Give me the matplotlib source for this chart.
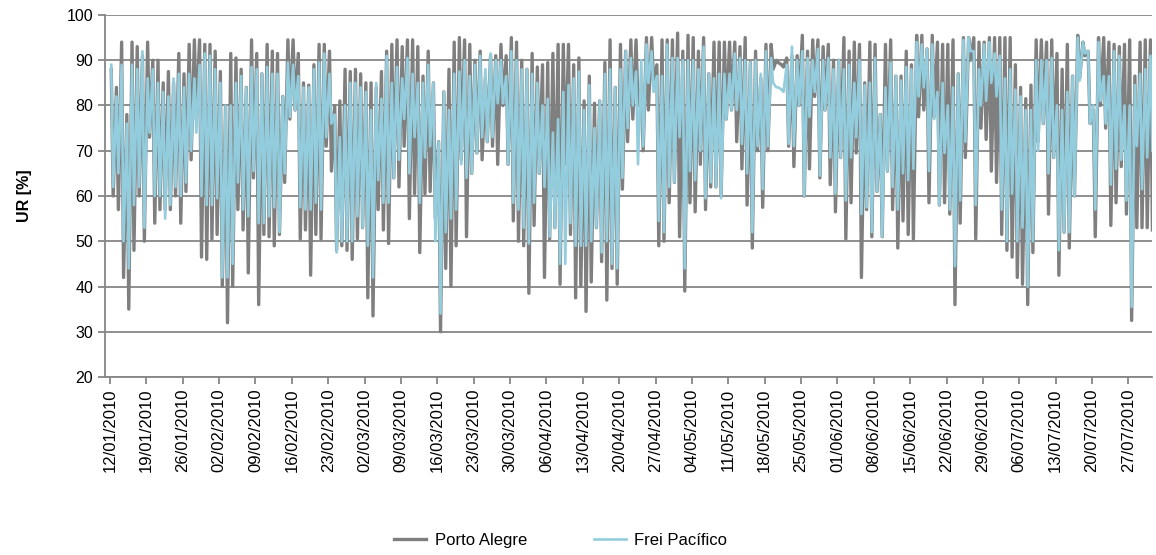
import matplotlib
matplotlib.use("Agg")
import matplotlib.pyplot as plt
import numpy as np
import pandas as pd

plt.rcParams['font.family'] = ['Liberation Sans', 'DejaVu Sans']

# daily extremes of relative humidity, 12/01/2010 .. 31/07/2010 (one value per day)
start_date = "2010-01-12"

pa_max = [88, 84, 94, 78, 94, 93, 91, 94, 90, 90, 85, 87.5, 85, 91.5, 87, 93.5,
          94.5, 94.5, 93.5, 93.5, 92, 87.5, 80, 91.5, 90.5, 88, 84, 94.5, 91.5, 87, 93.5, 92,
          91.5, 82, 94.5, 94.5, 91.5, 85, 84.5, 89, 93.5, 93.5, 92, 80, 81, 88, 87.5, 88,
          87, 85, 85, 84, 87.5, 92, 93.5, 94.5, 93, 94.5, 94.5, 93, 86.5, 92, 85, 72, 83,
          88, 94, 95, 94.5, 93.5, 90, 92, 86, 91, 91, 93.5, 91, 95, 94, 90, 88,
          91.5, 88.5, 89, 89.5, 91.5, 93.5, 93.5, 93.5, 89, 90.5, 81, 86.5, 80.5, 81, 89.5, 94.5,
          84, 93.5, 92, 94.5, 94.5, 82, 95, 95, 89, 94.5, 94.5, 94.5, 96, 92, 95.5, 95,
          92, 95, 87, 94, 94, 94, 94, 94, 93, 95, 89.5, 92, 86, 93.5, 93.5,
          90, 89, 90.5, 91, 91, 95.5, 92, 94.5, 94.5, 93, 93.5, 90, 90, 95, 92, 94, 93.5, 85,
          94, 93.5, 78, 93.5, 94.5, 86.5, 86.5, 92, 89, 95.5, 95.5, 92.5, 95.5, 94, 93.5, 93.5, 94.5,
          87, 95, 95, 95, 94, 94, 95, 95, 95, 95, 95, 89, 84, 81.5, 84.5, 94.5,
          94.5, 94, 94.5, 91.5, 88, 93.5, 86.5, 95.5, 94, 92, 79, 95, 95, 94, 93.5, 93, 93.5,
          94.5, 86.5, 94, 94.5, 94.5]

pa_min = [60, 57, 42, 35, 48, 60, 50, 73, 54, 57, 57, 57, 60, 54, 61, 68,
          77, 46.5, 46, 50.5, 51.5, 40, 32, 40, 57, 52.5, 43, 64, 36, 51.5, 51, 49,
          51.5, 63, 77, 79, 50.5, 52.5, 42.5, 51.5, 50.5, 71, 65.5, 48, 49, 48, 46, 50.5,
          53, 37.5, 33.5, 57, 52.5, 49.5, 64, 62, 71, 55, 60.5, 47.5, 60.5, 61, 55, 30, 44,
          40, 49, 68, 51, 65, 69.5, 68, 72, 71, 67, 80, 67, 54.5, 50, 49, 38.5,
          53.5, 65, 42, 50.5, 53, 40.5, 67, 51.5, 37.5, 40, 34.5, 41, 53, 45.5, 37, 44,
          40.5, 61.5, 72, 77, 80, 70, 79, 85, 49, 50, 58.5, 63, 51, 39, 58.5, 56.5,
          67, 57, 62, 62, 60, 77, 79, 72, 66, 58, 48.5, 70, 57.5, 70, 88,
          89.5, 88.5, 71, 66.5, 80, 60, 66, 82, 64, 79, 62.5, 56.5, 68.5, 50.5, 58.5, 69.5, 42, 57,
          51, 61, 51, 65.5, 57, 48.5, 54.5, 51.5, 50.5, 77.5, 79, 58.5, 77.5, 58, 58.5, 56, 36,
          54, 68.5, 90, 50.5, 75, 72.5, 65.5, 63, 51.5, 48, 46.5, 42, 40.5, 36, 47.5, 72,
          76, 56, 68.5, 42.5, 52, 48.5, 60, 86, 91, 76, 51, 80, 75, 53.5, 58.5, 66.5, 56,
          32.5, 53, 53, 53, 52.5]

fp_max = [89, 82, 89, 76, 89, 88, 92, 86, 88, 85, 83, 82, 86, 87, 84, 87,
          86, 89, 91.5, 91, 88, 85, 80, 80, 85, 86.5, 84, 88.5, 88, 87, 88.5, 87,
          87, 82, 89.5, 89, 86.5, 84, 84, 88, 89.5, 91.5, 87, 78, 73, 80, 85, 85,
          84, 83, 79, 85, 81.5, 91, 85, 88.5, 86, 90.5, 87, 85, 85, 89, 85, 72, 83,
          79, 87, 87.5, 90, 86.5, 89, 91, 88, 91.5, 90, 90, 86.5, 92, 90, 88, 88,
          87, 85, 80, 81.5, 74, 77, 83, 84.5, 86, 87.5, 79, 84.5, 75, 81, 87, 88,
          84, 88, 92, 90.5, 87.5, 90, 93.5, 92, 86.5, 86.5, 93.5, 90.5, 90.5, 90, 90, 90,
          88, 93, 87, 86, 87, 87, 87, 91.5, 90.5, 90, 89.5, 90, 87, 92, 90.5,
          84, 83.5, 89, 93, 90, 92, 90.5, 90, 92.5, 90, 90.5, 88, 90, 88, 89, 85, 90, 84.5,
          85, 90.5, 78, 84, 89.5, 86.5, 85.5, 88.5, 88, 94, 93.5, 92.5, 93.5, 83, 85, 80, 84,
          87, 94.5, 95, 92, 88, 93.5, 94, 91.5, 91, 86, 88, 83.5, 82, 79, 79, 90,
          90, 90, 90.5, 80, 79, 83, 86.5, 95, 94, 92, 80, 94, 86.5, 86.5, 92, 91, 80,
          80, 84.5, 87, 88, 91]

fp_min = [62, 65, 50, 44, 58, 62, 53, 74, 60, 60, 55, 58, 62, 60, 63, 70,
          74, 60, 58, 58, 59.5, 42, 42, 45, 63, 57, 55.5, 65.5, 54, 54, 55.5, 57.5,
          52, 65, 77.5, 79, 57.5, 57, 57, 58.5, 57, 73, 76, 47.5, 50, 50, 50, 55.5,
          53, 49, 42, 63.5, 58.5, 58.5, 64, 68, 77, 65, 73, 58.5, 68.5, 71, 50, 34, 52,
          55, 57, 67, 64, 65, 69.5, 73, 72, 73, 80.5, 80.5, 67, 58.5, 57, 53, 49.5,
          58.5, 65, 62, 51, 53, 45, 45, 54, 49, 49, 49, 50, 53, 47.5, 50, 45,
          44, 64, 75, 80, 67, 71, 85, 83, 54.5, 52, 62, 63, 73, 44, 65.5, 63.5,
          70, 59.5, 63, 62, 59.5, 77, 79, 79, 71.5, 65, 52, 71, 61.5, 71, 85,
          84, 83, 71.5, 71, 80, 60, 77.5, 83, 64.5, 79, 68.5, 60.5, 68.5, 59, 68.5, 73, 56, 57.5,
          52, 61, 51, 65.5, 62, 57, 65, 63.5, 66, 82, 84, 65.5, 77, 58, 69.5, 57, 44.5,
          59, 72, 92, 58, 80, 81, 85, 82, 57, 50, 60.5, 50, 53, 40, 50, 70,
          76, 65, 68.5, 48, 52, 52, 60, 85.5, 91.5, 76, 57, 81, 76, 62.5, 66, 68, 59,
          35.5, 71, 61.5, 68.5, 70]

series_names = ["Porto Alegre", "Frei Pacífico"]

days = np.arange(len(pa_max))
# morning maximum and afternoon minimum of each day
x = np.column_stack([days + 0.25, days + 0.62]).ravel()
pa = np.column_stack([pa_max, pa_min]).ravel()
fp = np.column_stack([fp_max, fp_min]).ravel()

tick_days = np.arange(0, len(days), 7)
tick_labels = [d.strftime("%d/%m/%Y") for d in pd.Timestamp(start_date) + pd.to_timedelta(tick_days, unit="D")]

grid_c = "#868686"

fig = plt.figure(figsize=(11.56, 5.55), dpi=100)
ax = fig.add_axes([0.0908, 0.3207, 0.906, 0.6523])

ax.plot(x, pa, color="#7f7f7f", lw=2.4, label=series_names[0], zorder=3)
ax.plot(x, fp, color="#93cddd", lw=1.9, label=series_names[1], zorder=4)

ax.set_ylim(20, 100)
ax.set_yticks(range(20, 101, 10))
ax.set_xlim(-0.96, 200.6)
ax.set_xticks(tick_days)
ax.set_xticklabels(tick_labels, rotation=90)
ax.grid(axis="y", color=grid_c, lw=1.3)
ax.set_axisbelow(True)

for s in ["top", "right"]:
    ax.spines[s].set_visible(False)
for s in ["left", "bottom"]:
    ax.spines[s].set_color(grid_c)
    ax.spines[s].set_linewidth(1.3)
ax.tick_params(axis="both", colors=grid_c, length=5, width=1.3, labelcolor="black")
ax.tick_params(axis="y", labelsize=11.5)
ax.tick_params(axis="x", labelsize=12)

ax.set_ylabel("UR [%]", fontsize=11.5, fontweight="bold", labelpad=25)

fig.legend(loc="lower center", bbox_to_anchor=(0.485, -0.014), ncol=2, frameon=False,
           fontsize=12, handlelength=1.95, handletextpad=0.5, columnspacing=4.0)

fig.savefig("out.png", dpi=100)
